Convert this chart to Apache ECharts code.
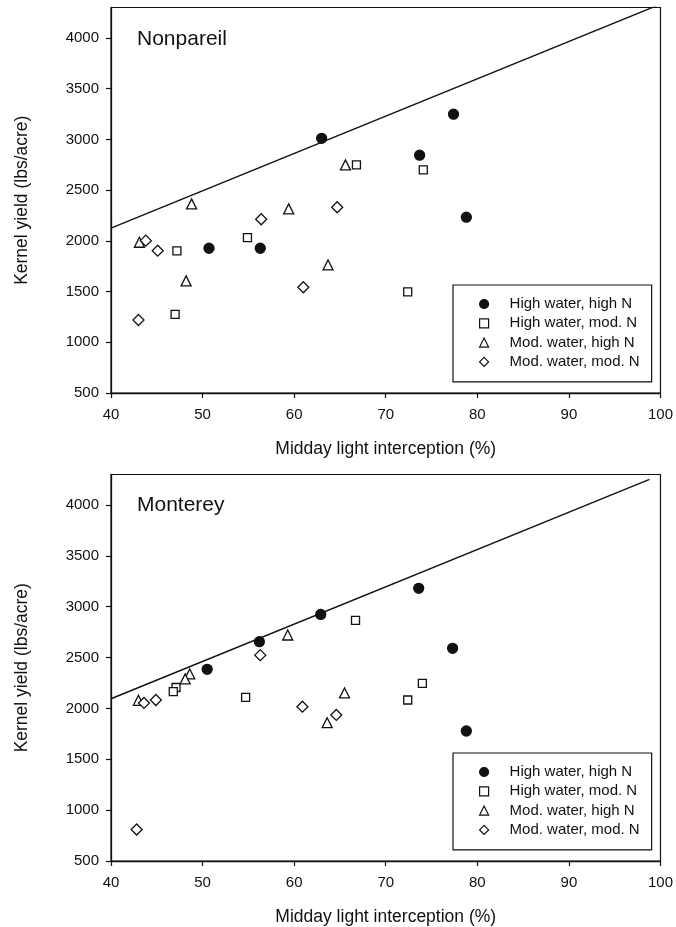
<!DOCTYPE html>
<html>
<head>
<meta charset="utf-8">
<title>Kernel yield vs light interception</title>
<script src="https://cdn.jsdelivr.net/npm/echarts@6/dist/echarts.min.js"></script>
<style>
  html, body { margin: 0; padding: 0; background: #fff; }
  #chart { width: 676px; height: 927px; }
</style>
</head>
<body>
<div id="chart"></div>
<script>
// series names (legend order)
const seriesNames = [
  "High water, high N",
  "High water, mod. N",
  "Mod. water, high N",
  "Mod. water, mod. N",
];

// Nonpareil: [light interception %, kernel yield lbs/acre]
const nonHighWaterHighN = [[63.0, 3010], [50.7, 1927], [56.3, 1927], [77.4, 3248], [73.7, 2844], [78.8, 2233]];
const nonHighWaterModN = [[66.8, 2749], [54.9, 2032], [47.2, 1900], [47.0, 1276], [74.1, 2699], [72.4, 1496]];
const nonModWaterHighN = [[65.6, 2749], [48.8, 2364], [59.4, 2315], [43.1, 1986], [48.2, 1605], [63.7, 1762]];
const nonModWaterModN = [[64.7, 2331], [56.4, 2213], [43.8, 2002], [45.1, 1903], [61.0, 1542], [43.0, 1220]];
const nonBoundary = [[40, 2125], [100, 4333]];

// Monterey
const monHighWaterHighN = [[62.9, 2924], [56.2, 2656], [50.5, 2385], [73.6, 3181], [77.3, 2591], [78.8, 1778]];
const monHighWaterModN = [[66.7, 2865], [47.1, 2206], [46.8, 2165], [54.7, 2108], [74.0, 2247], [72.4, 2083]];
const monModWaterHighN = [[59.3, 2722], [48.6, 2339], [48.1, 2291], [43.0, 2080], [65.5, 2152], [63.6, 1860]];
const monModWaterModN = [[56.3, 2524], [43.6, 2054], [44.9, 2083], [60.9, 2017], [64.6, 1936], [42.8, 810]];
const monBoundary = [[40, 2095], [98.8, 4253]];

const yTicks = [500, 1000, 1500, 2000, 2500, 3000, 3500, 4000];

const ink = "#111";
const font = "'Liberation Sans', Arial, sans-serif";

const symbols = [
  { symbol: "circle", size: 10, fill: ink },
  { symbol: "rect", size: 8, fill: "#fff" },
  { symbol: "triangle", size: 10, fill: "#fff" },
  { symbol: "diamond", size: 11, fill: "#fff" },
];

function xAxisFor(gridIndex) {
  return {
    type: "value",
    gridIndex,
    min: 40,
    max: 100,
    interval: 10,
    name: "Midday light interception (%)",
    nameLocation: "middle",
    nameGap: 47,
    nameTextStyle: { fontFamily: font, fontSize: 17.5, color: ink },
    axisLine: { show: true, lineStyle: { color: ink, width: 1.3 } },
    axisTick: { show: true, length: 5, lineStyle: { color: ink, width: 1.2 } },
    axisLabel: { fontFamily: font, fontSize: 15, color: ink, margin: 14 },
    splitLine: { show: false },
  };
}

function yAxisFor(gridIndex) {
  return {
    type: "value",
    gridIndex,
    min: 500,
    max: 4300,
    name: "Kernel yield (lbs/acre)",
    nameLocation: "middle",
    nameGap: 80,
    nameTextStyle: { fontFamily: font, fontSize: 17.5, color: ink },
    axisLine: { show: true, lineStyle: { color: ink, width: 1.3 } },
    axisTick: { show: true, length: 5, customValues: yTicks, lineStyle: { color: ink, width: 1.2 } },
    axisLabel: {
      fontFamily: font, fontSize: 15, color: ink, margin: 12, customValues: yTicks,
      formatter: (v) => String(v),
    },
    splitLine: { show: false },
  };
}

function scatterSeries(gridIndex, groups) {
  return groups.map((data, i) => ({
    name: seriesNames[i],
    type: "scatter",
    xAxisIndex: gridIndex,
    yAxisIndex: gridIndex,
    symbol: symbols[i].symbol,
    symbolSize: symbols[i].size,
    itemStyle: { color: symbols[i].fill, borderColor: ink, borderWidth: 1.3, opacity: 1 },
    data,
  }));
}

function boundarySeries(gridIndex, data) {
  return {
    name: "boundary",
    type: "line",
    xAxisIndex: gridIndex,
    yAxisIndex: gridIndex,
    showSymbol: false,
    clip: true,
    lineStyle: { color: ink, width: 1.4 },
    data,
  };
}

// legend icons are square (itemWidth = itemHeight); text pushed right with padding
function legendAt(top) {
  return {
    data: seriesNames,
    orient: "vertical",
    left: 453,
    top,
    padding: [11.5, 12, 12.5, 26],
    itemGap: 4.3,
    itemWidth: 9,
    itemHeight: 9,
    borderColor: ink,
    borderWidth: 1.2,
    backgroundColor: "#fff",
    itemStyle: { borderWidth: 1.2 },
    textStyle: { fontFamily: font, fontSize: 15, color: ink, padding: [0, 0, 0, 16] },
    selectedMode: false,
  };
}

const chart = echarts.init(document.getElementById("chart"));
chart.setOption({
  animation: false,
  backgroundColor: "#fff",
  title: [
    { text: "Nonpareil", left: 132, top: 24, textStyle: { fontFamily: font, fontSize: 21, fontWeight: "normal", color: ink } },
    { text: "Monterey", left: 132, top: 490, textStyle: { fontFamily: font, fontSize: 21, fontWeight: "normal", color: ink } },
  ],
  grid: [
    { left: 111, top: 7.5, width: 552, height: 385.5, show: true, borderColor: ink, borderWidth: 1.2 },
    { left: 111, top: 474.5, width: 552, height: 386.5, show: true, borderColor: ink, borderWidth: 1.2 },
  ],
  xAxis: [xAxisFor(0), xAxisFor(1)],
  yAxis: [yAxisFor(0), yAxisFor(1)],
  legend: [legendAt(285), legendAt(753)],
  series: [
    boundarySeries(0, nonBoundary),
    ...scatterSeries(0, [nonHighWaterHighN, nonHighWaterModN, nonModWaterHighN, nonModWaterModN]),
    boundarySeries(1, monBoundary),
    ...scatterSeries(1, [monHighWaterHighN, monHighWaterModN, monModWaterHighN, monModWaterModN]),
  ],
});
</script>
</body>
</html>
